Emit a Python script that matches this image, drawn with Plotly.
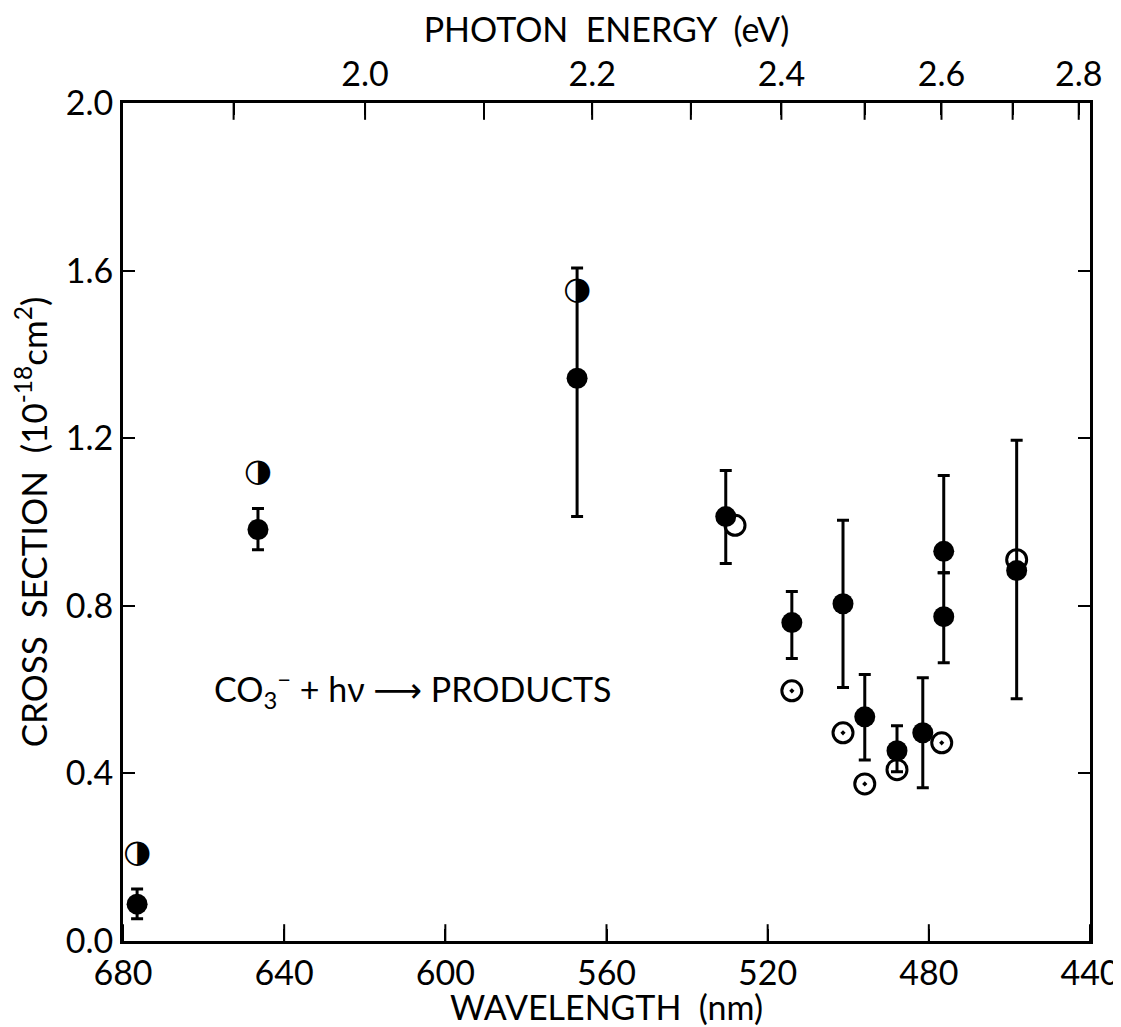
import plotly.graph_objects as go

# ---- data ----
wavelength_ticks = [680, 640, 600, 560, 520, 480, 440]
energy_ticks = [1.9, 2.0, 2.1, 2.2, 2.3, 2.4, 2.5, 2.6, 2.7, 2.8]
energy_labels = ["", "2.0", "", "2.2", "", "2.4", "", "2.6", "", "2.8"]
cs_ticks = [0.0, 0.4, 0.8, 1.2, 1.6, 2.0]

filled_wl = [676.5, 646.5, 567.3, 530.4, 514.0, 501.3, 495.9, 487.9, 481.5, 476.3, 476.3, 458.2]
filled_cs = [0.088, 0.982, 1.343, 1.013, 0.760, 0.805, 0.535, 0.454, 0.497, 0.930, 0.774, 0.884]
err_plus = [0.036, 0.050, 0.263, 0.110, 0.074, 0.199, 0.101, 0.060, 0.131, 0.181, 0.105, 0.311]
err_minus = [0.035, 0.048, 0.330, 0.112, 0.086, 0.200, 0.103, 0.050, 0.131, 0.051, 0.110, 0.306]

open_dot_wl = [514.0, 501.3, 495.9, 476.8]
open_dot_cs = [0.597, 0.497, 0.375, 0.473]

open_plain_wl = [528.1, 487.9, 458.2]
open_plain_cs = [0.992, 0.409, 0.910]

half_wl = [676.5, 646.5, 567.3]
half_cs = [0.208, 1.118, 1.551]

HC = 1239.84  # eV*nm

# wavelength decreases to the right: plot on a negated wavelength scale
def neg(vals):
    return [-v for v in vals]

energy_tick_pos = [-HC / e for e in energy_ticks]

FONT = "Lato, DejaVu Sans, sans-serif"
FS = 34

fig = go.Figure()

# inward tick marks on the bottom (wavelength) and top (energy) edges,
# drawn as vertical line markers clipped to the plotting area
fig.add_trace(go.Scatter(
    x=neg(wavelength_ticks), y=[cs_ticks[0]] * len(wavelength_ticks), mode="markers",
    marker=dict(symbol="line-ns", size=24, color="black", line=dict(color="black", width=2)),
    cliponaxis=True, showlegend=False, hoverinfo="skip"))
fig.add_trace(go.Scatter(
    x=energy_tick_pos, y=[cs_ticks[-1]] * len(energy_tick_pos), mode="markers",
    marker=dict(symbol="line-ns", size=24, color="black", line=dict(color="black", width=2)),
    cliponaxis=True, showlegend=False, hoverinfo="skip"))

fig.add_trace(go.Scatter(
    x=neg(filled_wl), y=filled_cs, mode="markers",
    marker=dict(symbol="circle", size=21, color="black"),
    error_y=dict(type="data", symmetric=False, array=err_plus, arrayminus=err_minus,
                 color="black", thickness=3, width=6),
    showlegend=False, hoverinfo="skip"))

fig.add_trace(go.Scatter(
    x=neg(open_dot_wl), y=open_dot_cs, mode="markers",
    marker=dict(symbol="circle-dot", size=20, color="white",
                line=dict(color="black", width=3)),
    showlegend=False, hoverinfo="skip"))

fig.add_trace(go.Scatter(
    x=neg(open_plain_wl), y=open_plain_cs, mode="markers",
    marker=dict(symbol="circle-open", size=20, color="black",
                line=dict(color="black", width=3)),
    showlegend=False, hoverinfo="skip"))

# half-filled markers drawn on the top (energy) axis, which shares the same scale
fig.add_trace(go.Scatter(
    x=neg(half_wl), y=half_cs, xaxis="x2", mode="text", text=["\u25D1"] * len(half_wl),
    textposition="middle center",
    textfont=dict(family="DejaVu Sans", size=32, color="black"),
    showlegend=False, hoverinfo="skip"))

fig.add_annotation(
    x=-658, y=0.60, xref="x", yref="y", xanchor="left", yanchor="middle",
    text="CO<sub>3</sub><sup>\u2212</sup> + h\u03bd \u27F6 PRODUCTS", showarrow=False,
    font=dict(family=FONT, size=34, color="black"))

axis_common = dict(showline=True, linecolor="black", linewidth=3, ticks="inside",
                   ticklen=12, tickwidth=2, tickcolor="black", showgrid=False,
                   zeroline=False, automargin=False,
                   tickfont=dict(family=FONT, size=FS, color="black"))

x_range = [-wavelength_ticks[0], -wavelength_ticks[-1]]

fig.update_layout(
    template="none",
    width=1113, height=1019,
    font=dict(family=FONT, color="black"),
    paper_bgcolor="white", plot_bgcolor="rgba(0,0,0,0)",
    margin=dict(l=115, r=31, t=95, b=86),
    xaxis=dict(range=x_range, tickvals=neg(wavelength_ticks),
               ticktext=[str(v) for v in wavelength_ticks],
               title=dict(text="WAVELENGTH\u00a0\u00a0(nm)", standoff=2,
                          font=dict(family=FONT, size=FS, color="black")),
               **axis_common),
    xaxis2=dict(range=x_range, overlaying="x", side="top", anchor="y",
                tickvals=energy_tick_pos, ticktext=energy_labels,
                title=dict(text="PHOTON\u00a0\u00a0ENERGY\u00a0\u00a0(eV)", standoff=6,
                           font=dict(family=FONT, size=FS, color="black")),
                **axis_common),
    yaxis=dict(range=[cs_ticks[0], cs_ticks[-1]], tickvals=cs_ticks,
               ticktext=[f"{v:.1f}" for v in cs_ticks],
               mirror="ticks",
               title=dict(text="CROSS\u00a0\u00a0SECTION\u00a0\u00a0(10<sup>-18</sup>cm<sup>2</sup>)",
                          font=dict(family=FONT, size=35, color="black")),
               **axis_common),
)

fig.write_html("out.html")
